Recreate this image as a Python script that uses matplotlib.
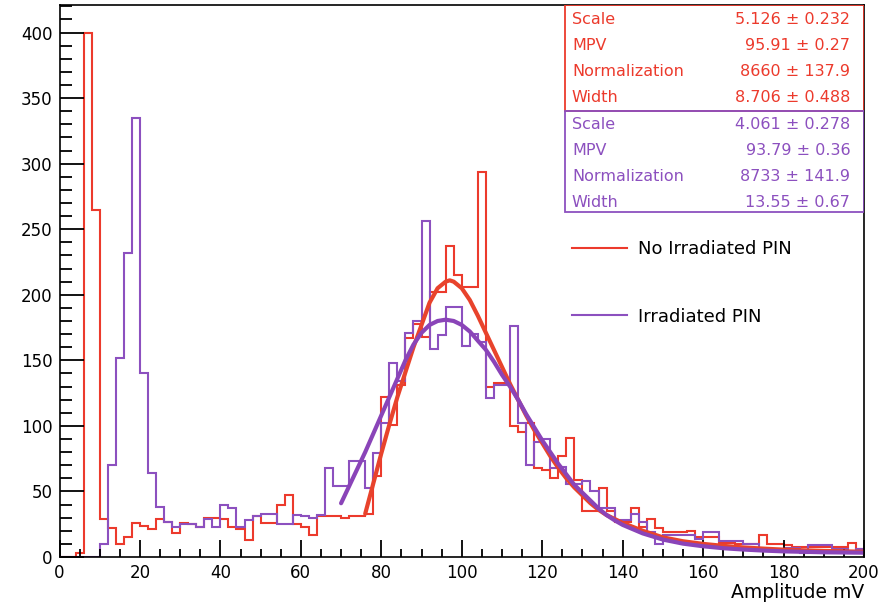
import numpy as np
import matplotlib
matplotlib.use('Agg')
from matplotlib import pyplot as plt
from matplotlib.lines import Line2D
from matplotlib.patches import Rectangle
from matplotlib.ticker import MultipleLocator

# histogram: 2 mV bins from 0 to 200
bin_lo, bin_hi, bin_w = 0, 200, 2

no_irr_counts = [0, 0, 3, 400, 265, 29, 22, 10, 15, 26,
                 24, 21, 29, 27, 18, 26, 25, 23, 30, 30,
                 29, 23, 21, 13, 31, 26, 26, 40, 47, 25,
                 23, 17, 31, 31, 31, 30, 31, 31, 33, 62,
                 122, 101, 131, 167, 178, 168, 202, 202, 237, 215,
                 206, 206, 294, 130, 133, 133, 100, 95, 102, 68,
                 66, 60, 77, 91, 59, 35, 35, 53, 35, 27,
                 27, 37, 23, 29, 22, 19, 19, 19, 20, 15,
                 15, 15, 11, 11, 10, 10, 10, 17, 10, 10,
                 9, 8, 8, 8, 8, 8, 8, 8, 11, 6]

irr_counts = [0, 0, 0, 0, 0, 10, 70, 152, 232, 335,
              140, 64, 38, 27, 23, 25, 25, 23, 29, 23,
              40, 37, 23, 28, 31, 33, 33, 25, 25, 32,
              31, 30, 32, 68, 54, 54, 73, 73, 53, 79,
              102, 148, 134, 171, 180, 256, 159, 169, 191, 191,
              161, 170, 164, 121, 131, 131, 176, 102, 70, 88,
              90, 68, 69, 56, 56, 58, 50, 37, 37, 28,
              28, 33, 27, 19, 10, 17, 17, 17, 17, 14,
              19, 19, 12, 12, 12, 10, 10, 6, 6, 6,
              7, 7, 3, 9, 9, 9, 6, 6, 3, 6]

# fitted Landau x Gauss curves
no_irr_fit_x = [76, 78, 80, 82, 84, 86, 88, 90, 92, 94, 96, 97, 98, 100,
                102, 104, 106, 108, 110, 112, 114, 116, 118, 120, 122, 124,
                126, 128, 130, 132, 134, 136, 138, 140, 145, 150, 155, 160,
                165, 170, 175, 180, 190, 200]
no_irr_fit_y = [33, 56, 79, 101, 122, 141, 160, 177, 194, 205, 210, 211, 210, 205,
                196, 184, 171, 158, 145, 132, 120, 108, 97, 87, 77, 68,
                60, 53, 47, 41, 36, 32, 29, 26, 20, 15, 12, 10,
                8.5, 7.3, 6.4, 5.6, 4.6, 4]

irr_fit_x = [70, 72, 74, 76, 78, 80, 82, 84, 86, 88, 90, 92, 94, 96, 98, 100,
             102, 104, 106, 108, 110, 112, 114, 116, 118, 120, 122, 124, 126,
             128, 130, 132, 134, 136, 138, 140, 145, 150, 155, 160, 165, 170,
             175, 180, 190, 200]
irr_fit_y = [41, 54, 67, 80, 94, 108, 122, 136, 150, 162, 171, 177, 180, 181, 180, 177,
             172, 165, 158, 149, 139, 130, 120, 109, 99, 89, 80, 71, 63,
             55, 49, 43, 37, 32, 28, 24.5, 18, 13.3, 10.2, 8.2, 6.7, 5.7,
             4.9, 4.3, 3.6, 3.3]

no_irr_pars = [('Scale', '5.126 \u00b1 0.232'), ('MPV', '95.91 \u00b1 0.27'),
               ('Normalization', '8660 \u00b1 137.9'), ('Width', '8.706 \u00b1 0.488')]
irr_pars = [('Scale', '4.061 \u00b1 0.278'), ('MPV', '93.79 \u00b1 0.36'),
            ('Normalization', '8733 \u00b1 141.9'), ('Width', '13.55 \u00b1 0.67')]

red = '#ec3a2c'
purple = '#8c50bf'
red_fit = '#e8432c'
purple_fit = '#8a44b8'

plt.rcParams['font.family'] = ['DejaVu Sans']

fig = plt.figure(figsize=(8.89, 6.05), dpi=100)
ax = fig.add_axes([59.5 / 889, 48 / 605, 804.5 / 889, 552 / 605])

edges = np.arange(bin_lo, bin_hi + bin_w, bin_w)
ax.stairs(no_irr_counts, edges, color=red, lw=1.5)
ax.stairs(irr_counts, edges, color=purple, lw=1.5)
ax.plot(no_irr_fit_x, no_irr_fit_y, color=red_fit, lw=3, solid_capstyle='round', solid_joinstyle='round')
ax.plot(irr_fit_x, irr_fit_y, color=purple_fit, lw=3, solid_capstyle='round', solid_joinstyle='round')

ax.set_xlim(0, 200)
ax.set_ylim(0, 421)
ax.xaxis.set_major_locator(MultipleLocator(20))
ax.xaxis.set_minor_locator(MultipleLocator(5))
ax.yaxis.set_major_locator(MultipleLocator(50))
ax.yaxis.set_minor_locator(MultipleLocator(10))
ax.tick_params(axis='both', which='both', direction='in', top=False, right=False,
               width=1.3, labelsize=12)
ax.tick_params(axis='x', which='major', length=12, pad=5)
ax.tick_params(axis='x', which='minor', length=6)
ax.tick_params(axis='y', which='major', length=17, pad=5)
ax.tick_params(axis='y', which='minor', length=8.5)
for s in ax.spines.values():
    s.set_linewidth(1.2)
ax.set_xlabel('Amplitude mV', loc='right', fontsize=13.5, labelpad=1)

# stats boxes
ax.add_patch(Rectangle((0.628, 0.808), 0.372, 0.192, transform=ax.transAxes,
                       fill=False, ec=red, lw=1.3, zorder=5))
ax.add_patch(Rectangle((0.628, 0.625), 0.372, 0.183, transform=ax.transAxes,
                       fill=False, ec=purple, lw=1.3, zorder=5))
rows_y = [0.973, 0.926, 0.880, 0.833, 0.783, 0.736, 0.690, 0.643]
for (name, val), y in zip(no_irr_pars + irr_pars, rows_y):
    c = red if y > 0.808 else purple
    ax.text(0.637, y, name, transform=ax.transAxes, color=c, fontsize=11.5, va='center')
    ax.text(0.983, y, val, transform=ax.transAxes, color=c, fontsize=11.5, va='center', ha='right')

handles = [Line2D([], [], color=red, lw=1.5), Line2D([], [], color=purple, lw=1.5)]
ax.legend(handles, ['No Irradiated PIN', 'Irradiated PIN'], loc='upper left',
          bbox_to_anchor=(0.6375, 0.574), frameon=False, fontsize=13,
          handlelength=3.05, handletextpad=0.6, labelspacing=2.74,
          borderpad=0, borderaxespad=0)

plt.savefig('out.png')
